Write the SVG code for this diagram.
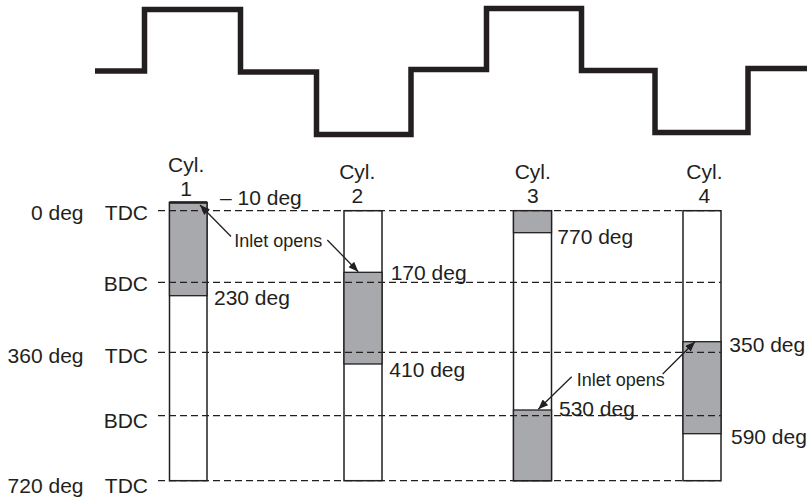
<svg xmlns="http://www.w3.org/2000/svg" width="809" height="500" viewBox="0 0 809 500">
<style>
text{font-family:"Liberation Sans",Arial,sans-serif;fill:#231f20;font-size:21px}
.sm{font-size:18px}
.mid{text-anchor:middle}
.end{text-anchor:end}
.bar{fill:#fff;stroke:#231f20;stroke-width:1.5}
.fill{fill:#a7a9ac;stroke:#231f20;stroke-width:1.3}
.dash{stroke:#231f20;stroke-width:1.3;stroke-dasharray:7 4;fill:none}
.arr{stroke:#231f20;stroke-width:1.3;fill:none;marker-end:url(#ah)}
</style>
<defs>
<marker id="ah" viewBox="0 0 10 8" refX="10" refY="4" markerWidth="10" markerHeight="8" markerUnits="userSpaceOnUse" orient="auto">
<path d="M0,0 L10,4 L0,8 Z" fill="#231f20"/>
</marker>
</defs>
<rect width="809" height="500" fill="#fff"/>
<g id="waveform">
<polyline points="95,71 144.5,71 144.5,9.5 240.5,9.5 240.5,72 316.5,72 316.5,134.5 411,134.5 411,69.5 486.5,69.5 486.5,8.5 581.5,8.5 581.5,70.5 655,70.5 655,132.5 748,132.5 748,68.5 807,68.5" fill="none" stroke="#231f20" stroke-width="5.5" stroke-linejoin="miter"/>
</g>
<g id="axis-labels">
<text x="83.5" y="220" class="end">0 deg</text>
<text x="148" y="220" class="end">TDC</text>
<text x="148" y="291" class="end">BDC</text>
<text x="83.5" y="363.3" class="end">360 deg</text>
<text x="148" y="363.3" class="end">TDC</text>
<text x="148" y="428.3" class="end">BDC</text>
<text x="83.5" y="493" class="end">720 deg</text>
<text x="148" y="493" class="end">TDC</text>
</g>
<g id="cyl1">
<rect class="bar" x="169.5" y="202.5" width="37.5" height="278.2"/>
<rect class="fill" x="169.5" y="202.5" width="37.5" height="93.2"/>
<line x1="169.5" y1="202.5" x2="207" y2="202.5" stroke="#231f20" stroke-width="2.5"/>
<text x="186.2" y="172" class="mid">Cyl.</text>
<text x="186.2" y="196" class="mid">1</text>
<text x="220" y="205">– 10 deg</text>
<text x="214" y="305">230 deg</text>
</g>
<g id="cyl2">
<rect class="bar" x="344" y="210.7" width="38" height="270"/>
<rect class="fill" x="344" y="272.3" width="38" height="91.7"/>
<text x="357.3" y="179.3" class="mid">Cyl.</text>
<text x="357.3" y="203.3" class="mid">2</text>
<text x="390.7" y="280">170 deg</text>
<text x="389.3" y="376.7">410 deg</text>
</g>
<g id="cyl3">
<rect class="bar" x="513.5" y="210.7" width="38" height="270"/>
<rect class="fill" x="513.5" y="210.7" width="38" height="22"/>
<rect class="fill" x="513.5" y="410" width="38" height="70.7"/>
<text x="532.8" y="179.3" class="mid">Cyl.</text>
<text x="532.8" y="203.3" class="mid">3</text>
<text x="557.3" y="244.3">770 deg</text>
<text x="559" y="416">530 deg</text>
</g>
<g id="cyl4">
<rect class="bar" x="683" y="210.7" width="38" height="270"/>
<rect class="fill" x="683" y="341.7" width="38" height="92"/>
<text x="704.4" y="179.3" class="mid">Cyl.</text>
<text x="704.4" y="203.3" class="mid">4</text>
<text x="729.3" y="352.3">350 deg</text>
<text x="731" y="444">590 deg</text>
</g>
<g id="annotations">
<text x="234.3" y="247.3" class="sm">Inlet opens</text>
<text x="576.7" y="386" class="sm">Inlet opens</text>
</g>
<g id="connectors">
<line class="dash" x1="158" y1="210.7" x2="721" y2="210.7"/>
<line class="dash" x1="158" y1="282.3" x2="721" y2="282.3"/>
<line class="dash" x1="158" y1="352.3" x2="721" y2="352.3"/>
<line class="dash" x1="158" y1="415.7" x2="721" y2="415.7"/>
<line class="dash" x1="158" y1="480.7" x2="721" y2="480.7"/>
<line class="arr" x1="231" y1="236.5" x2="200" y2="205"/>
<line class="arr" x1="327.3" y1="240" x2="358.3" y2="271.7"/>
<line class="arr" x1="571.7" y1="376.7" x2="538.3" y2="409.3"/>
<line class="arr" x1="662.7" y1="374" x2="695" y2="341.7"/>
</g>
</svg>
